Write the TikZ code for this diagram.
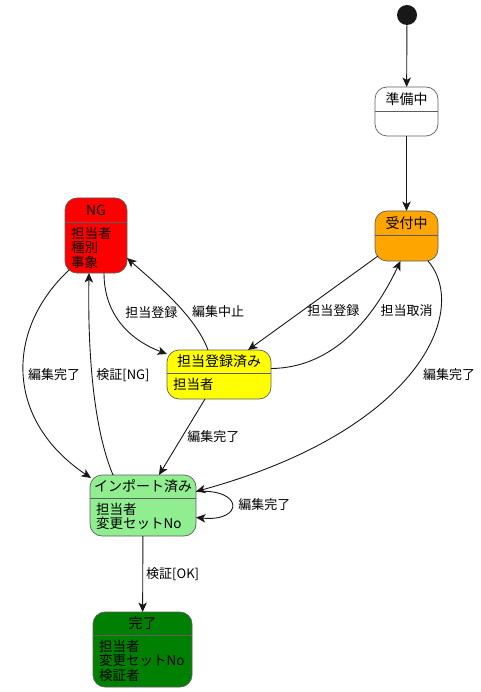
\documentclass[tikz,border=0pt]{standalone}
\usepackage{fontspec}
\setmainfont{Noto Sans CJK JP}
\usetikzlibrary{arrows.meta,positioning}
\definecolor{linedark}{HTML}{181818}
\definecolor{stateline}{HTML}{5E5E5E}
\definecolor{ngred}{HTML}{FF0000}
\definecolor{orangefill}{HTML}{FFA500}
\definecolor{yellowfill}{HTML}{FFFF00}
\definecolor{lightgreenfill}{HTML}{90EE90}
\definecolor{greenfill}{HTML}{008000}

\begin{document}
\begin{tikzpicture}[
  x=1pt,y=-1pt,
  state/.style={draw=stateline,rounded corners=12pt,line width=0.7pt,
                inner sep=0pt,outer sep=0pt},
  sttitle/.style={font=\fontsize{14}{16}\selectfont,inner sep=0pt},
  stbody/.style={anchor=north west,align=left,inner sep=0pt,
                 font=\fontsize{13.5}{14.3}\selectfont,xshift=6pt,yshift=-5pt},
  divider/.style={draw=stateline,line width=0.6pt},
  initial/.style={circle,fill=linedark,minimum size=20pt,inner sep=0pt},
  ar/.style={-{Stealth[length=9.5pt,width=8.5pt,inset=2.5pt]},draw=linedark,line width=0.9pt},
  lbl/.style={font=\fontsize{13}{15}\selectfont,inner sep=1pt,anchor=west}
]
\useasboundingbox (0,0) rectangle (480,692);

% states
\node[initial] (start) at (407,15) {};

\node[state,fill=white,minimum width=63pt,minimum height=49pt] (junbi) at (406.5,111.5) {};
\node[sttitle] (junbi-t) at ([yshift=-12pt]junbi.north) {準備中};
\draw[divider] ([yshift=-24pt]junbi.north west) -- ([yshift=-24pt]junbi.north east);

\node[state,fill=orangefill,minimum width=63pt,minimum height=50pt] (uketsuke) at (406.5,236) {};
\node[sttitle] (uketsuke-t) at ([yshift=-12pt]uketsuke.north) {受付中};
\draw[divider] ([yshift=-24pt]uketsuke.north west) -- ([yshift=-24pt]uketsuke.north east);

\node[state,fill=ngred,minimum width=62pt,minimum height=75pt] (ng) at (96,235.5) {};
\node[sttitle] (ng-t) at ([yshift=-12pt]ng.north) {NG};
\draw[divider] ([yshift=-24pt]ng.north west) -- ([yshift=-24pt]ng.north east);
\node[stbody] (ng-b) at ([yshift=-24pt]ng.north west) {担当者\\種別\\事象};

\node[state,fill=yellowfill,minimum width=104pt,minimum height=49pt] (tanto) at (219,374.5) {};
\node[sttitle] (tanto-t) at ([yshift=-11.5pt]tanto.north) {担当登録済み};
\draw[divider] ([yshift=-23pt]tanto.north west) -- ([yshift=-23pt]tanto.north east);
\node[stbody] (tanto-b) at ([yshift=-23pt]tanto.north west) {担当者};

\node[state,fill=lightgreenfill,minimum width=106pt,minimum height=61pt] (import) at (143,505.5) {};
\node[sttitle] (import-t) at ([yshift=-11.5pt]import.north) {インポート済み};
\draw[divider] ([yshift=-23pt]import.north west) -- ([yshift=-23pt]import.north east);
\node[stbody] (import-b) at ([yshift=-23pt]import.north west) {担当者\\変更セットNo};

\node[state,fill=greenfill,minimum width=99pt,minimum height=75pt] (kanryo) at (142.5,649.5) {};
\node[sttitle] (kanryo-t) at ([yshift=-11.5pt]kanryo.north) {完了};
\draw[divider] ([yshift=-23pt]kanryo.north west) -- ([yshift=-23pt]kanryo.north east);
\node[stbody] (kanryo-b) at ([yshift=-23pt]kanryo.north west) {担当者\\変更セットNo\\検証者};

% transitions
\draw[ar] (start) -- (junbi);
\draw[ar] (junbi) -- (uketsuke);
\draw[ar] ([xshift=3pt,yshift=5pt]uketsuke.south west)
  -- node[lbl,pos=0.585,xshift=4pt] {担当登録} ([xshift=29pt]tanto.north);
\draw[ar] ([yshift=6pt]tanto.east) .. controls (335,368) and (375,315)
  .. node[lbl,pos=0.68,xshift=8pt] {担当取消} ([xshift=-6pt]uketsuke.south);
\draw[ar] ([xshift=-10pt]uketsuke.south east) .. controls (470,310) and (420,430)
  .. node[lbl,pos=0.51,xshift=12pt] {編集完了} ([yshift=14pt]import.east);
\draw[ar] ([xshift=8pt]ng.south) .. controls (104,315) and (130,340)
  .. node[lbl,pos=0.37,xshift=10pt] {担当登録} ([yshift=-4pt]tanto.north west);
\draw[ar] ([xshift=-11pt]tanto.north) .. controls (195,315) and (155,283)
  .. node[lbl,pos=0.38,xshift=7pt] {編集中止} ([yshift=15pt]ng.south east);
\draw[ar] ([xshift=4pt,yshift=3pt]ng.south west) .. controls (5,330) and (5,420)
  .. node[lbl,pos=0.5,xshift=3pt] {編集完了} ([xshift=1pt,yshift=-3pt]import.north west);
\draw[ar] ([xshift=-30pt]import.north) .. controls (90,420) and (88,330)
  .. node[lbl,pos=0.5,xshift=3pt] {検証[NG]} ([xshift=-7pt]ng.south);
\draw[ar] ([xshift=-14pt]tanto.south)
  -- node[lbl,pos=0.5,xshift=4pt] {編集完了} ([xshift=16pt]import.north);
\draw[ar] ([yshift=14pt]import.east) .. controls (244,488) and (244,522)
  .. node[lbl,pos=0.5,xshift=5pt] {編集完了} ([yshift=-12pt]import.east);
\draw[ar] (import) -- node[lbl,pos=0.5,xshift=2pt] {検証[OK]} (kanryo);
\end{tikzpicture}
\end{document}
